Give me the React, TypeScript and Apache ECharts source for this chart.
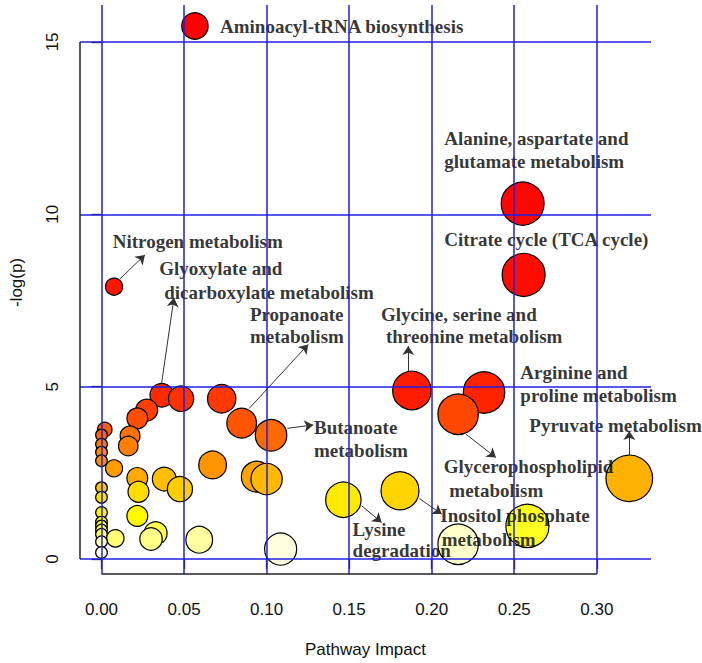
import React, { useEffect, useRef } from "react";
import * as echarts from "echarts";

// Pathway impact (x) and -log(p) (y) for every pathway
const impact = [
  0.0566, 0.2551, 0.2557, 0.0076, 0.188, 0.2317, 0.0365, 0.0482, 0.0728, 0.0274,
  0.216, 0.0217, 0.0849, 0.002, 0.0, 0.1027, 0.0173, 0.0, 0.0162, 0.0,
  0.0, 0.0673, 0.0076, 0.094, 0.0217, 0.3197, 0.1, 0.038, 0.0, 0.0475,
  0.1808, 0.0224, 0.0, 0.1465, 0.0, 0.0217, 0.0, 0.0, 0.258, 0.0,
  0.0328, 0.0, 0.0084, 0.03, 0.0592, 0.0, 0.216, 0.1085, 0.0,
];
const negLogP = [
  15.46, 10.31, 8.24, 7.9, 4.89, 4.83, 4.75, 4.65, 4.65, 4.32,
  4.2, 4.08, 3.94, 3.76, 3.6, 3.59, 3.57, 3.33, 3.28, 3.1,
  2.85, 2.73, 2.63, 2.39, 2.35, 2.34, 2.32, 2.32, 2.07, 2.03,
  1.98, 1.95, 1.79, 1.72, 1.35, 1.25, 1.07, 0.96, 0.96, 0.84,
  0.75, 0.72, 0.6, 0.58, 0.56, 0.5, 0.43, 0.29, 0.19,
];

const xTicks = [0, 0.05, 0.1, 0.15, 0.2, 0.25, 0.3];
const yTicks = [0, 5, 10, 15];

// Annotation text lines (left edge / vertical centre in data units)
const labelTexts = [
  "Aminoacyl-tRNA biosynthesis",
  "Alanine, aspartate and",
  "glutamate metabolism",
  "Citrate cycle (TCA cycle)",
  "Nitrogen metabolism",
  "Glyoxylate and",
  "dicarboxylate metabolism",
  "Propanoate",
  "metabolism",
  "Glycine, serine and",
  "threonine metabolism",
  "Arginine and",
  "proline metabolism",
  "Pyruvate metabolism",
  "Butanoate",
  "metabolism",
  "Glycerophospholipid",
  "metabolism",
  "Inositol phosphate",
  "metabolism",
  "Lysine",
  "degradation",
];
const labelX = [
  0.0718, 0.2076, 0.2076, 0.2076, 0.0068, 0.035, 0.038, 0.0899, 0.0899, 0.1693,
  0.1723, 0.2537, 0.2537, 0.2591, 0.1287, 0.1287, 0.2073, 0.2107, 0.2052, 0.2061,
  0.1521, 0.1521,
];
const labelY = [
  15.46, 12.21, 11.53, 9.265, 9.198, 8.416, 7.722, 7.093, 6.448, 7.093,
  6.448, 5.423, 4.748, 3.859, 3.813, 3.135, 2.684, 1.998, 1.254, 0.579,
  0.848, 0.24,
];

// Arrows from bubbles to their labels (data units)
const arrowFromX = [0.0112, 0.0364, 0.0895, 0.1125, 0.1858, 0.2208, 0.1925, 0.1576, 0.3197];
const arrowFromY = [8.126, 5.095, 4.37, 3.792, 5.443, 3.619, 1.757, 1.543, 3.011];
const arrowToX = [0.0263, 0.0439, 0.1252, 0.1283, 0.1858, 0.2389, 0.2061, 0.1697, 0.3197];
const arrowToY = [8.821, 7.576, 6.225, 3.888, 6.176, 2.944, 1.303, 1.063, 3.715];

const X_MIN = -0.01302;
const X_MAX = 0.33283;
const Y_MIN = -0.434;
const Y_MAX = 16.07;
const W = 702;
const H = 663;
const GRID = { left: 80, right: 51, top: 5, bottom: 88 };

function hsvToHex(h: number, s: number, v: number): string {
  const i = Math.floor(h * 6);
  const f = h * 6 - i;
  const p = v * (1 - s);
  const q = v * (1 - f * s);
  const t = v * (1 - (1 - f) * s);
  let r = 0, g = 0, b = 0;
  switch (((i % 6) + 6) % 6) {
    case 0: r = v; g = t; b = p; break;
    case 1: r = q; g = v; b = p; break;
    case 2: r = p; g = v; b = t; break;
    case 3: r = p; g = q; b = v; break;
    case 4: r = t; g = p; b = v; break;
    default: r = v; g = p; b = q; break;
  }
  const hx = (c: number) => Math.round(c * 255).toString(16).padStart(2, "0");
  return "#" + hx(r) + hx(g) + hx(b);
}

// R's heat.colors(n)
function heatColors(n: number): string[] {
  const j = Math.floor(n / 4);
  const i = n - j;
  const cols: string[] = [];
  for (let k = 0; k < i; k++) {
    const h = i > 1 ? (1 / 6) * (k / (i - 1)) : 0;
    cols.push(hsvToHex(h, 1, 1));
  }
  const s0 = 1 - 1 / (2 * j);
  const s1 = 1 / (2 * j);
  for (let k = 0; k < j; k++) {
    const s = j > 1 ? s0 + (s1 - s0) * (k / (j - 1)) : s0;
    cols.push(hsvToHex(1 / 6, s, 1));
  }
  return cols;
}

const sansFont = "Liberation Sans, Arial, sans-serif";
const serifFont = "Liberation Serif, Times New Roman, serif";

export default function App() {
  const ref = useRef<HTMLDivElement>(null);

  useEffect(() => {
    if (!ref.current) return;
    const chart = echarts.init(ref.current, null, { renderer: "svg" });

    const n = impact.length;
    const order = Array.from({ length: n }, (_, k) => k).sort(
      (a, b) => negLogP[b] - negLogP[a]
    );
    const colors = heatColors(n);
    const sq = impact.map((v) => Math.sqrt(Math.abs(v)));
    const minS = Math.min(...sq);
    const maxS = Math.max(...sq);
    const maxR = (maxS - minS) / 40;
    const minR = (maxS - minS) / 160;
    const pxPerX = (W - GRID.left - GRID.right) / (X_MAX - X_MIN);

    const bubbleData = order.map((idx, rank) => {
      const r = minR + ((maxR - minR) * (sq[idx] - minS)) / (maxS - minS);
      return {
        value: [impact[idx], negLogP[idx]],
        symbolSize: 2 * r * pxPerX,
        itemStyle: { color: colors[rank] },
      };
    });

    const gridLineData: any[] = [
      ...xTicks.map((v) => ({ xAxis: v })),
      ...yTicks.map((v) => ({ yAxis: v })),
    ];
    const axisLineData: any[] = [
      [
        { coord: [xTicks[0], Y_MIN] },
        { coord: [xTicks[xTicks.length - 1], Y_MIN] },
      ],
      [
        { coord: [X_MIN, yTicks[0]] },
        { coord: [X_MIN, yTicks[yTicks.length - 1]] },
      ],
    ];

    const arrowData: any[] = arrowFromX.map((_, k) => [
      { coord: [arrowFromX[k], arrowFromY[k]] },
      { coord: [arrowToX[k], arrowToY[k]] },
    ]);

    chart.setOption({
      animation: false,
      grid: { ...GRID, containLabel: false },
      xAxis: {
        type: "value",
        min: X_MIN,
        max: X_MAX,
        name: "Pathway Impact",
        nameLocation: "middle",
        nameGap: 67,
        nameTextStyle: { fontSize: 17, color: "#111", fontFamily: sansFont },
        axisLine: { show: false },
        splitLine: { show: false },
        axisTick: {
          show: true,
          customValues: xTicks,
          length: 10,
          lineStyle: { color: "#222", width: 1.3 },
        },
        axisLabel: {
          customValues: xTicks,
          formatter: (v: number) => v.toFixed(2),
          margin: 27,
          fontSize: 17,
          color: "#111",
          fontFamily: sansFont,
        },
      },
      yAxis: {
        type: "value",
        min: Y_MIN,
        max: Y_MAX,
        name: "-log(p)",
        nameLocation: "middle",
        nameGap: 55,
        nameTextStyle: { fontSize: 17, color: "#111", fontFamily: sansFont, padding: [0, 0, 0, 14] },
        axisLine: { show: false },
        splitLine: { show: false },
        axisTick: {
          show: true,
          customValues: yTicks,
          length: 10,
          lineStyle: { color: "#222", width: 1.3 },
        },
        axisLabel: {
          customValues: yTicks,
          formatter: (v: number) => String(v),
          rotate: 90,
          margin: 19,
          fontSize: 17,
          color: "#111",
          fontFamily: sansFont,
        },
      },
      series: [
        {
          type: "scatter",
          name: "grid",
          data: [],
          z: 1,
          silent: true,
          clip: false,
          markLine: {
            silent: true,
            symbol: "none",
            label: { show: false },
            lineStyle: { color: "#1f1fe6", width: 1.5, type: "solid" },
            emphasis: { disabled: true },
            data: [
              ...gridLineData,
              ...axisLineData.map((d) => {
                d[0].lineStyle = { color: "#222", width: 1.5, type: "solid" };
                return d;
              }),
            ],
          },
        },
        {
          type: "scatter",
          name: "pathways",
          z: 2,
          data: bubbleData,
          itemStyle: { borderColor: "#000", borderWidth: 1.2, opacity: 1 },
          emphasis: { disabled: true },
        },
        {
          type: "scatter",
          name: "labels",
          z: 3,
          silent: true,
          clip: false,
          symbolSize: 0,
          itemStyle: { color: "transparent" },
          data: labelTexts.map((t, k) => ({ value: [labelX[k], labelY[k]], name: t })),
          label: {
            show: true,
            formatter: "{b}",
            position: [0, 0],
            align: "left",
            verticalAlign: "middle",
            fontFamily: serifFont,
            fontWeight: "bold",
            fontSize: 19,
            color: "#000",
          },
          emphasis: { disabled: true },
          markLine: {
            silent: true,
            symbol: ["none", "arrow"],
            symbolSize: 9,
            label: { show: false },
            lineStyle: { color: "#333", width: 1, type: "solid" },
            emphasis: { disabled: true },
            data: arrowData,
          },
        },
      ],
    });

    return () => chart.dispose();
  }, []);

  return (
    <div
      ref={ref}
      style={{ position: "fixed", left: 0, top: 0, width: W, height: H, background: "#fff" }}
    />
  );
}
